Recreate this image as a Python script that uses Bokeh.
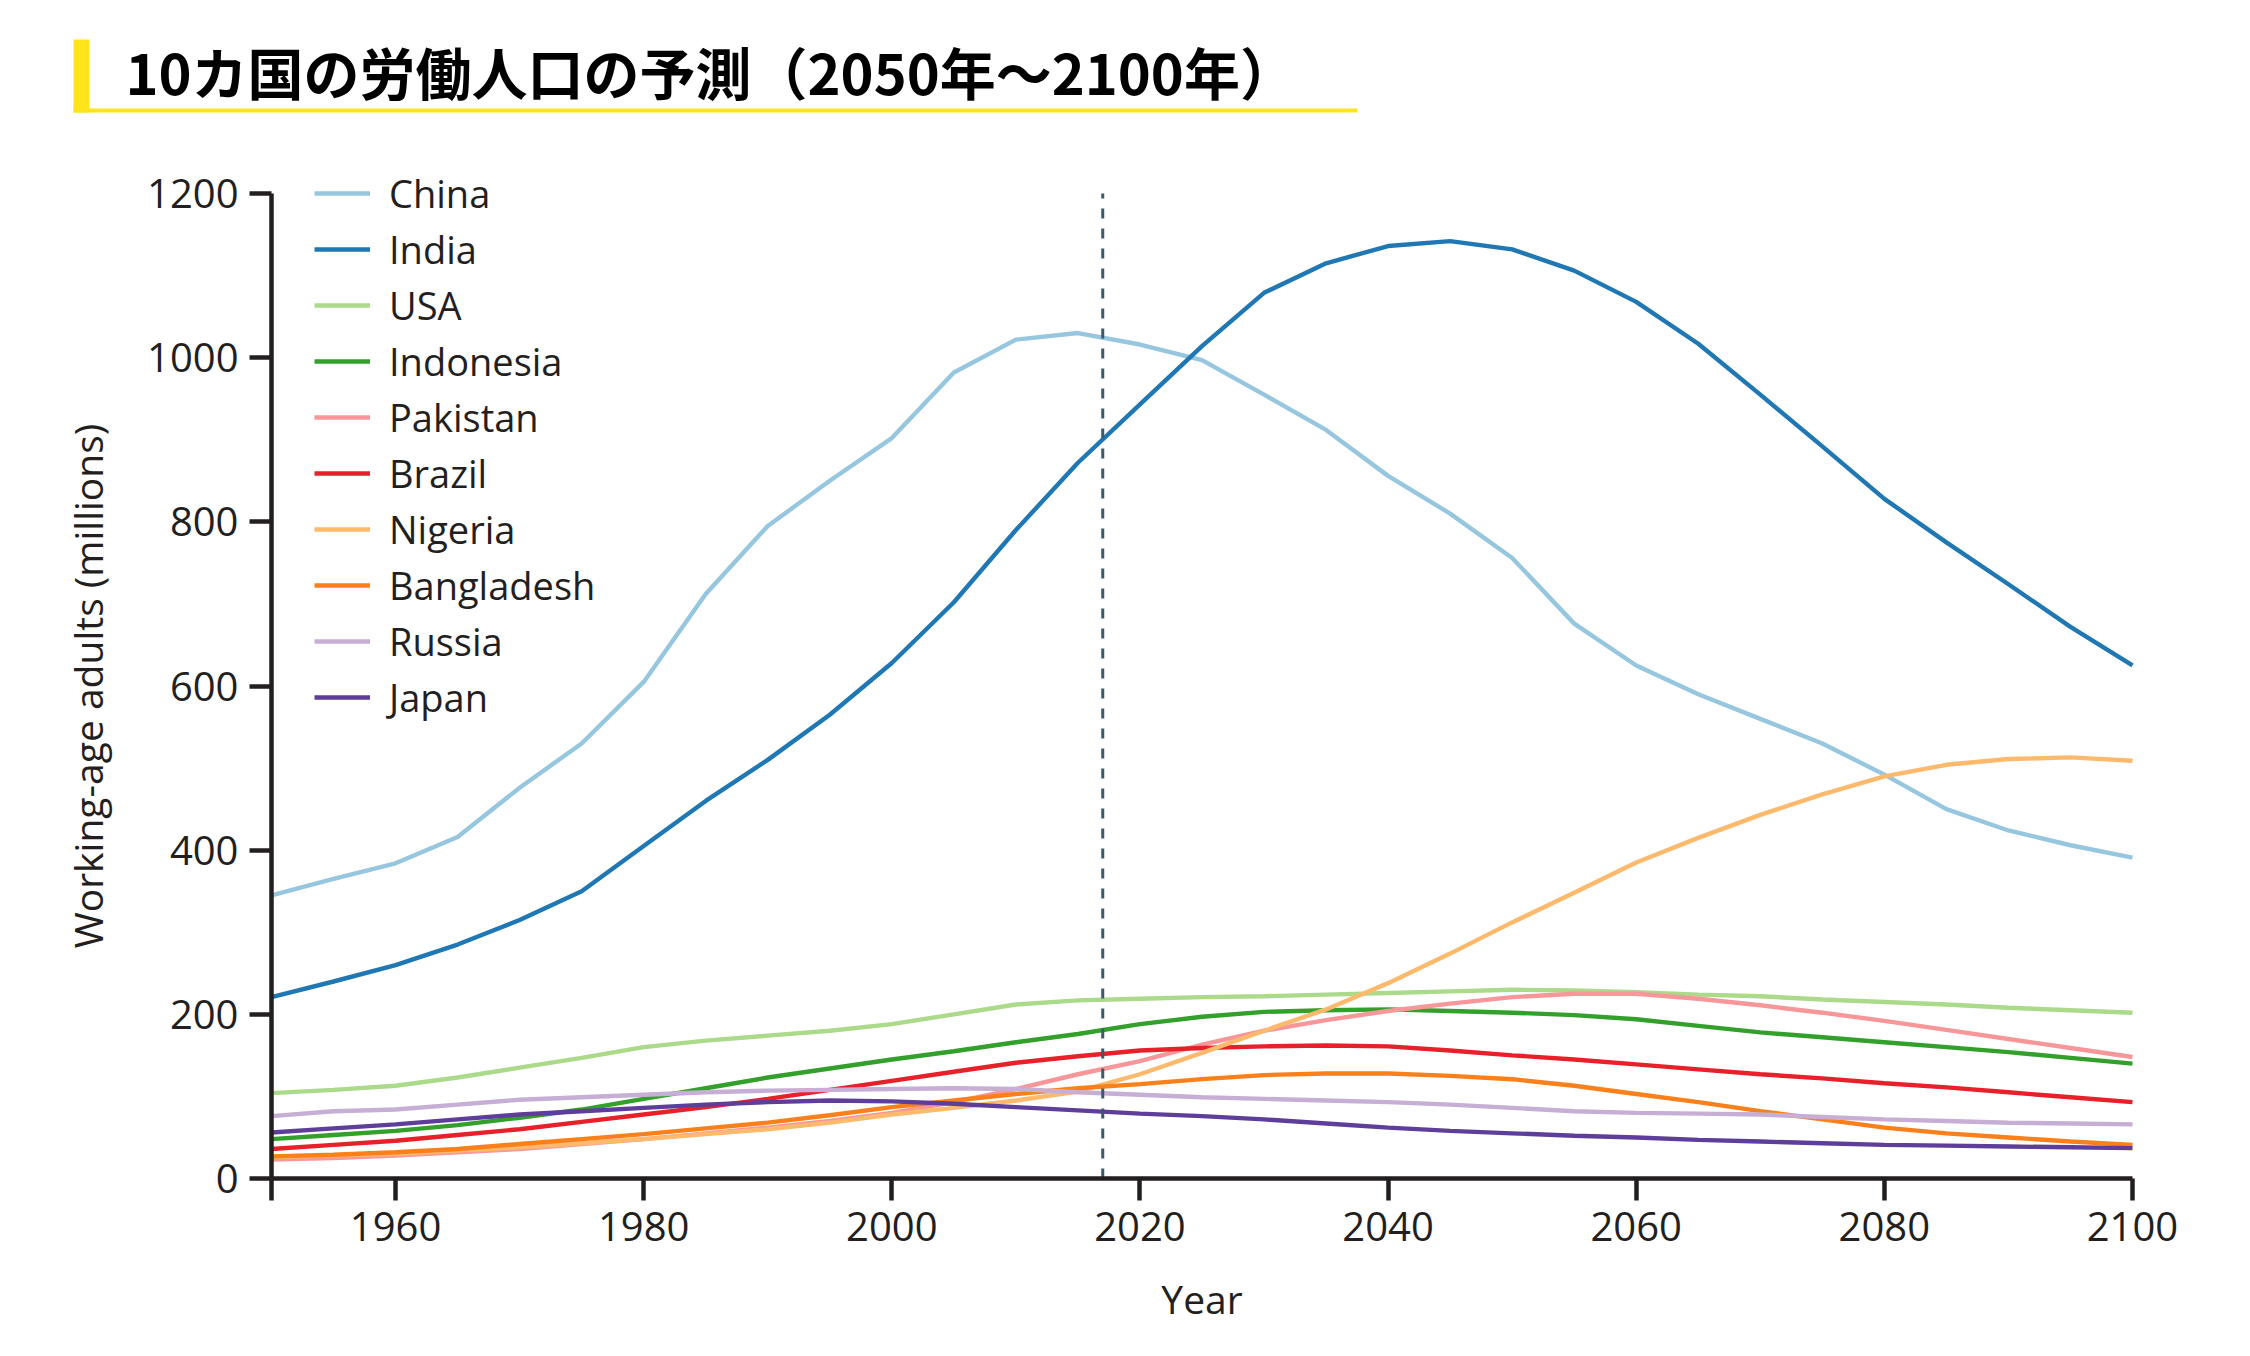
from bokeh.plotting import figure
from bokeh.models import Range1d, FixedTicker, Legend, LegendItem, ColumnDataSource
from bokeh.core.properties import value
from bokeh.embed import file_html
from bokeh.resources import INLINE

# ---------------- data (millions of working-age adults) ----------------
years = list(range(1950, 2101, 5))

china = [345, 365, 384, 416, 476, 530, 605, 712, 795, 850, 902, 982, 1022, 1030, 1016,
         997, 955, 912, 856, 810, 756, 676, 625, 590, 560, 530, 492, 450, 424, 406, 391]
india = [221, 240, 260, 285, 315, 350, 405, 460, 510, 565, 628, 702, 790, 872, 943,
         1014, 1079, 1115, 1136, 1142, 1132, 1106, 1068, 1017, 955, 892, 828, 775, 724, 672, 625]
usa = [104, 108, 113, 123, 135, 147, 160, 168, 174, 180, 188, 200, 212, 217, 219,
       221, 222, 224, 226, 228, 230, 229, 227, 224, 222, 218, 215, 212, 208, 205, 202]
indonesia = [48, 53, 58, 65, 74, 84, 97, 110, 123, 134, 145, 155, 166, 176, 188,
             197, 203, 205, 206, 204, 202, 199, 194, 186, 178, 172, 166, 160, 154, 147, 140]
pakistan = [23, 25, 28, 32, 36, 42, 48, 55, 62, 70, 80, 93, 109, 127, 143,
            163, 180, 193, 204, 213, 221, 225, 225, 219, 211, 202, 192, 181, 170, 159, 148]
brazil = [36, 41, 46, 53, 60, 69, 78, 87, 97, 108, 119, 130, 141, 149, 156,
          159, 161, 162, 161, 156, 150, 145, 139, 133, 127, 122, 116, 111, 105, 99, 93]
nigeria = [26, 28, 30, 34, 38, 43, 48, 54, 60, 68, 78, 86, 95, 106, 127,
           153, 180, 206, 238, 274, 312, 348, 385, 415, 443, 468, 490, 504, 511, 513, 509]
bangladesh = [27, 29, 32, 36, 42, 48, 54, 61, 68, 77, 87, 95, 103, 110, 115,
              121, 126, 128, 128, 125, 121, 113, 103, 93, 82, 72, 62, 55, 50, 45, 41]
russia = [76, 82, 84, 90, 96, 99, 102, 105, 107, 108, 109, 110, 109, 105, 102,
          99, 97, 95, 93, 90, 86, 82, 80, 79, 78, 75, 72, 70, 68, 67, 66]
japan = [56, 61, 66, 72, 78, 82, 86, 90, 93, 95, 94, 91, 87, 83, 79,
         76, 72, 67, 62, 58, 55, 52, 50, 47, 45, 43, 41, 40, 39, 38, 37]

countries = ["China", "India", "USA", "Indonesia", "Pakistan",
             "Brazil", "Nigeria", "Bangladesh", "Russia", "Japan"]
values = [china, india, usa, indonesia, pakistan, brazil, nigeria, bangladesh, russia, japan]
colors = ["#96c7df", "#1f78b4", "#abda8a", "#33a02c", "#f7979a",
          "#e8202a", "#fdb96c", "#f9801a", "#c6aed5", "#5e3e9a"]

x_ticks = [1950, 1960, 1980, 2000, 2020, 2040, 2060, 2080, 2100]
y_ticks = [0, 200, 400, 600, 800, 1000, 1200]
reference_year = 2017

title_text = "10カ国の労働人口の予測（2050年〜2100年）"
x_label = "Year"
y_label = "Working-age adults (millions)"

# ---------------- layout constants (page pixels) ----------------
FONT = "Open Sans"
INK = "#231f20"
YELLOW = "#ffe41c"
W, H = 2240, 1340
X0_PX, X1_PX = 271, 2132   # page x of first / last year
Y0_PX, Y1_PX = 1178, 193   # page y of 0 / top tick

xa, xb = x_ticks[0], x_ticks[-1]
ya, yb = y_ticks[0], y_ticks[-1]
ppx = (X1_PX - X0_PX) / (xb - xa)
ppy = (Y0_PX - Y1_PX) / (yb - ya)

p = figure(width=W, height=H,
           x_range=Range1d(xa - X0_PX / ppx, xb + (W - X1_PX) / ppx),
           y_range=Range1d(ya - (H - Y0_PX) / ppy, yb + Y1_PX / ppy),
           toolbar_location=None, output_backend="svg",
           min_border=0, min_border_left=0, min_border_right=0,
           min_border_top=0, min_border_bottom=0)
p.grid.visible = False
p.outline_line_color = None
p.extra_x_ranges = {"px": Range1d(0, W)}
p.extra_y_ranges = {"px": Range1d(H, 0)}

# ---------------- title strip ----------------
p.quad(left=73, right=89, top=39, bottom=112, fill_color=YELLOW, line_color=None,
       x_range_name="px", y_range_name="px")
p.quad(left=73, right=1357, top=108, bottom=112, fill_color=YELLOW, line_color=None,
       x_range_name="px", y_range_name="px")
p.text(x=[125], y=[70], text=[title_text], text_font=value("Noto Sans CJK JP"),
       text_font_style="bold", text_font_size="56px", text_color="#000000",
       text_baseline="middle", text_align="left", x_range_name="px", y_range_name="px")

# ---------------- series ----------------
renderers = []
for name, vals, col in zip(countries, values, colors):
    src = ColumnDataSource(dict(x=years, y=vals))
    r = p.line("x", "y", source=src, line_color=col, line_width=4.4)
    renderers.append((name, r))

p.segment(x0=[reference_year], y0=[ya], x1=[reference_year], y1=[yb],
          line_color="#3b5b6c", line_width=3, line_dash="10 10")

# ---------------- axes ----------------
for ax in (p.xaxis[0], p.yaxis[0]):
    ax.axis_line_width = 4.5
    ax.axis_line_color = INK
    ax.major_tick_line_width = 4.5
    ax.major_tick_line_color = INK
    ax.major_tick_out = 22
    ax.major_tick_in = 0
    ax.minor_tick_line_color = None
    ax.major_label_text_font = FONT
    ax.major_label_text_font_size = "40px"
    ax.major_label_text_color = INK
    ax.axis_label_text_font = FONT
    ax.axis_label_text_font_size = "39px"
    ax.axis_label_text_font_style = "normal"
    ax.axis_label_text_color = INK

p.xaxis.fixed_location = ya
p.xaxis.bounds = (xa, xb)
p.xaxis.ticker = FixedTicker(ticks=x_ticks)
p.xaxis.major_label_overrides = {xa: ""}
p.xaxis.major_label_standoff = 11
p.xaxis.axis_label = x_label
p.xaxis.axis_label_standoff = 28

p.yaxis.fixed_location = xa
p.yaxis.bounds = (ya, yb)
p.yaxis.ticker = FixedTicker(ticks=y_ticks)
p.yaxis.major_label_standoff = 11
p.yaxis.axis_label = y_label
p.yaxis.axis_label_standoff = 30

# ---------------- legend ----------------
ROW = 56
legend = Legend(items=[LegendItem(label=n, renderers=[r]) for n, r in renderers],
                location=(314, H - (Y1_PX - ROW // 2) - ROW * len(countries)),
                orientation="vertical",
                glyph_width=56, glyph_height=ROW, label_height=ROW, label_standoff=19,
                spacing=0, padding=0, margin=0,
                label_text_font=FONT, label_text_font_size="38px", label_text_color=INK,
                border_line_color=None, background_fill_alpha=0)
p.add_layout(legend)

open("out.html", "w").write(file_html(p, INLINE))
